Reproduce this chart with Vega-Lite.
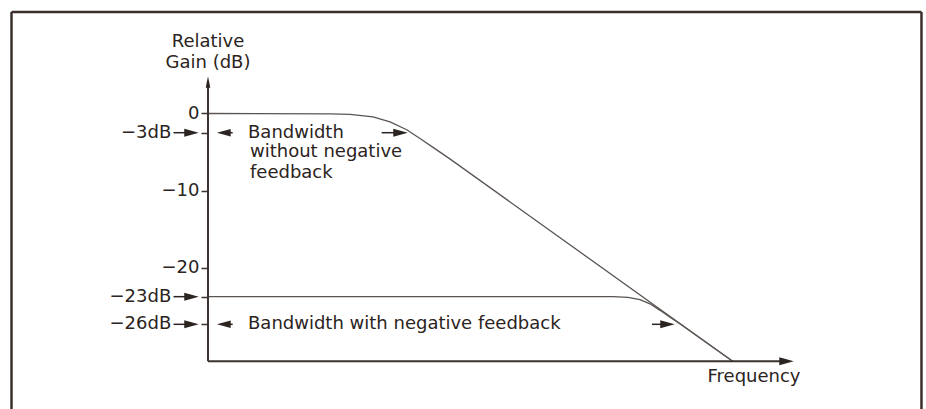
{
  "$schema": "https://vega.github.io/schema/vega-lite/v6.json",
  "width": 926,
  "height": 409,
  "padding": 0,
  "autosize": {"type": "none"},
  "background": "#ffffff",
  "config": {
    "view": {"stroke": null},
    "text": {"font": "DejaVu Sans", "fontSize": 18, "color": "#2b2421", "baseline": "middle"}
  },
  "datasets": {
    "frame": [
      {"x": -37.43, "x2": 135.9, "y": 13.15, "y2": 13.15},
      {"x": -37.43, "x2": -37.43, "y": 13.15, "y2": -38.6},
      {"x": 135.9, "x2": 135.9, "y": 13.15, "y2": -38.6}
    ],
    "curves": [
      {"series": "open loop", "x": 0, "y": 0},
      {"series": "open loop", "x": 23.24, "y": -0.06},
      {"series": "open loop", "x": 27.05, "y": -0.12},
      {"series": "open loop", "x": 31.43, "y": -0.45},
      {"series": "open loop", "x": 34.67, "y": -1.1},
      {"series": "open loop", "x": 37.85, "y": -2.1},
      {"series": "open loop", "x": 40.38, "y": -3.25},
      {"series": "open loop", "x": 43.0, "y": -4.45},
      {"series": "open loop", "x": 46.0, "y": -5.85},
      {"series": "open loop", "x": 100, "y": -32.12},
      {"series": "with feedback", "x": 0, "y": -23.73},
      {"series": "with feedback", "x": 77.14, "y": -23.73},
      {"series": "with feedback", "x": 80.0, "y": -23.83},
      {"series": "with feedback", "x": 82.29, "y": -24.1},
      {"series": "with feedback", "x": 84.19, "y": -24.65},
      {"series": "with feedback", "x": 86.1, "y": -25.5},
      {"series": "with feedback", "x": 88.0, "y": -26.4},
      {"series": "with feedback", "x": 90.0, "y": -27.3},
      {"series": "with feedback", "x": 100, "y": -32.12}
    ],
    "axisLines": [
      {"x": 0, "x2": 0, "y": -32.1, "y2": 3.5},
      {"x": 0, "x2": 109.0, "y": -32.1, "y2": -32.1}
    ],
    "arrowLines": [
      {"x": -6.57, "x2": -3.5, "y": -2.49, "y2": -2.49},
      {"x": -6.57, "x2": -3.5, "y": -23.73, "y2": -23.73},
      {"x": -6.57, "x2": -3.5, "y": -27.31, "y2": -27.31},
      {"x": 3.0, "x2": 4.7, "y": -2.49, "y2": -2.49},
      {"x": 33.08, "x2": 36.5, "y": -2.49, "y2": -2.49},
      {"x": 3.0, "x2": 4.7, "y": -27.31, "y2": -27.31},
      {"x": 84.57, "x2": 87.3, "y": -27.31, "y2": -27.31}
    ],
    "headsRight": [
      {"x": -3.14, "y": -2.49},
      {"x": -3.14, "y": -23.73},
      {"x": -3.14, "y": -27.31},
      {"x": 36.67, "y": -2.49},
      {"x": 87.52, "y": -27.31},
      {"x": 110.19, "y": -32.1}
    ],
    "headsLeft": [
      {"x": 3.01, "y": -2.49},
      {"x": 3.01, "y": -27.31}
    ],
    "headsUp": [
      {"x": 0, "y": 4.08}
    ],
    "textLeft": [
      {"x": 7.62, "y": -2.49, "label": "Bandwidth"},
      {"x": 8.0, "y": -4.95, "label": "without negative"},
      {"x": 8.0, "y": -7.75, "label": "feedback"},
      {"x": 7.62, "y": -27.31, "label": "Bandwidth with negative feedback"}
    ],
    "textRight": [
      {"x": -7.0, "y": -2.49, "label": "−3dB"},
      {"x": -7.0, "y": -23.73, "label": "−23dB"},
      {"x": -7.0, "y": -27.31, "label": "−26dB"}
    ],
    "textCenter": [
      {"x": 0, "y": 9.26, "label": "Relative"},
      {"x": 0, "y": 6.54, "label": "Gain (dB)"},
      {"x": 104.0, "y": -34.13, "label": "Frequency"}
    ]
  },
  "encoding": {
    "x": {"field": "x", "type": "quantitative", "scale": {"domain": [-39.62, 136.76], "nice": false, "zero": false}, "axis": null},
    "y": {
      "field": "y", "type": "quantitative",
      "scale": {"domain": [-38.28, 14.70], "nice": false, "zero": false},
      "axis": {
        "offset": -208,
        "domain": false,
        "grid": false,
        "title": null,
        "values": [0, -2.49, -10, -20, -23.73, -27.31],
        "tickSize": 7,
        "tickWidth": 1.5,
        "tickColor": "#3b332f",
        "labelPadding": 2,
        "labelFont": "DejaVu Sans",
        "labelFontSize": 18,
        "labelColor": "#2b2421",
        "labelExpr": "datum.value === 0 ? '0' : datum.value === -10 ? '−10' : datum.value === -20 ? '−20' : ''"
      }
    }
  },
  "layer": [
    {
      "data": {"name": "frame"},
      "mark": {"type": "rule", "stroke": "#3a2f2b", "strokeWidth": 2.5},
      "encoding": {"x2": {"field": "x2"}, "y2": {"field": "y2"}}
    },
    {
      "data": {"name": "curves"},
      "mark": {"type": "line", "stroke": "#5b5552", "strokeWidth": 1.3},
      "encoding": {"detail": {"field": "series"}}
    },
    {
      "data": {"name": "axisLines"},
      "mark": {"type": "rule", "stroke": "#3b332f", "strokeWidth": 2},
      "encoding": {"x2": {"field": "x2"}, "y2": {"field": "y2"}}
    },
    {
      "data": {"name": "arrowLines"},
      "mark": {"type": "rule", "stroke": "#2b2421", "strokeWidth": 1.5},
      "encoding": {"x2": {"field": "x2"}, "y2": {"field": "y2"}}
    },
    {
      "data": {"name": "headsRight"},
      "mark": {"type": "point", "shape": "M1,0L-1,-0.55L-1,0.55Z", "filled": true, "size": 210, "color": "#2b2421", "opacity": 1}
    },
    {
      "data": {"name": "headsLeft"},
      "mark": {"type": "point", "shape": "M-1,0L1,-0.55L1,0.55Z", "filled": true, "size": 190, "color": "#2b2421", "opacity": 1}
    },
    {
      "data": {"name": "headsUp"},
      "mark": {"type": "point", "shape": "M0,-1L-0.4,1L0.4,1Z", "filled": true, "size": 130, "color": "#2b2421", "opacity": 1}
    },
    {
      "data": {"name": "textLeft"},
      "mark": {"type": "text", "align": "left"},
      "encoding": {"text": {"field": "label"}}
    },
    {
      "data": {"name": "textRight"},
      "mark": {"type": "text", "align": "right"},
      "encoding": {"text": {"field": "label"}}
    },
    {
      "data": {"name": "textCenter"},
      "mark": {"type": "text", "align": "center"},
      "encoding": {"text": {"field": "label"}}
    }
  ]
}
